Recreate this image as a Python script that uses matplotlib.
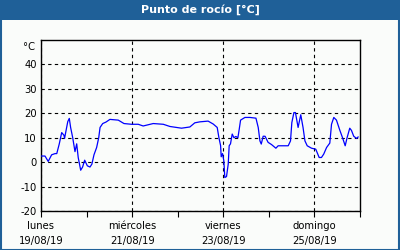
import matplotlib
matplotlib.use("Agg")
import matplotlib.pyplot as plt
from matplotlib.patches import Rectangle

# Data: hours since 19/08/19 00:00 and dew point values (°C)
hours = [0, 2.1, 3.8, 5.6, 7.4, 8.3, 9.6, 10.9, 12.1, 12.4, 14.1, 14.9, 15.6, 16.7,
         17.9, 18.8, 19.6, 20.9, 21.9, 23.0, 24.4, 25.8, 26.8, 27.9, 29.3, 30.4,
         31.1, 32.5, 34.2, 36.3, 40.7, 43.7, 47.7, 51.2, 53.8, 59.1, 64.4, 67.9,
         74.0, 78.4, 81.0, 83.7, 88.0, 90.7, 92.8, 93.7, 94.6, 94.9, 95.6, 96.3,
         96.8, 97.7, 98.6, 99.1, 99.8, 100.7, 101.6, 102.6, 103.7, 104.4, 105.1,
         107.4, 110.0, 113.2, 114.4, 115.3, 116.0, 117.0, 118.0, 119.6, 121.4,
         123.7, 124.9, 128.4, 130.2, 131.4, 132.1, 133.2, 134.0, 135.4, 136.8,
         138.0, 139.0, 140.2, 142.5, 144.7, 146.5, 147.7, 148.9, 150.4, 152.1,
         153.0, 154.2, 155.6, 157.4, 158.8, 160.2, 161.2, 162.6, 163.5, 164.7,
         166.2, 167.0]
dew = [2.5, 2.5, 0.3, 3.0, 3.5, 3.5, 7.4, 12.1, 11.0, 9.7, 16.6, 17.9, 14.2, 10.0,
       4.3, 7.5, 1.9, -3.3, -2.0, 0.8, -1.5, -2.0, -0.8, 3.0, 6.0, 10.0,
       14.2, 15.8, 16.4, 17.5, 17.2, 15.8, 15.5, 15.5, 14.8, 15.8, 15.5, 14.6,
       13.9, 14.4, 16.1, 16.5, 16.8, 15.6, 14.2, 10.0, 6.7, 2.2, 3.5, 0.5,
       -6.3, -5.9, -0.8, 6.7, 7.5, 11.5, 10.0, 10.5, 10.0, 13.5, 17.2,
       18.3, 18.3, 18.0, 14.2, 8.7, 7.4, 10.6, 10.6, 8.1, 7.2,
       5.7, 6.7, 6.7, 6.7, 8.7, 16.2, 20.3, 20.3, 14.2, 19.4,
       14.2, 8.7, 6.7, 5.7, 5.3, 1.9, 1.9, 3.3, 6.0, 7.8,
       15.5, 18.3, 17.2, 13.0, 10.0, 6.7, 10.0, 13.9, 13.0, 10.6,
       9.7, 10.3]

major_ticks = [0, 48, 96, 144]
major_labels = ["lunes\n19/08/19", "miércoles\n21/08/19", "viernes\n23/08/19", "domingo\n25/08/19"]
minor_ticks = [24, 72, 120, 168]
y_ticks = [-20, -10, 0, 10, 20, 30, 40]
title = "Punto de rocío [°C]"
unit = "°C"

W, H = 400, 250
fig = plt.figure(figsize=(W / 100, H / 100), dpi=100)
fig.patch.set_facecolor("#fafcfa")

blue = "#1f6098"
# title bar
fig.add_artist(Rectangle((0, 1 - 20 / H), 1, 20 / H, transform=fig.transFigure,
                         facecolor=blue, edgecolor="none", zorder=0))
# border
fig.add_artist(Rectangle((0.5 / W, 0.5 / H), 1 - 1.5 / W, 1 - 1.5 / H, transform=fig.transFigure,
                         facecolor="none", edgecolor=blue, linewidth=1.5, zorder=5))
fig.text(0.5, 1 - 10 / H, title, color="white", fontweight="bold", fontsize=8,
         ha="center", va="center")

ax = fig.add_axes([41 / W, (H - 211) / H, (360 - 41) / W, (211 - 40) / H])
ax.set_facecolor("#fafcfa")
ax.plot(hours, dew, color="#0000ff", linewidth=0.9, zorder=3)

ax.set_xlim(0, 168)
ax.set_ylim(-20, 50)
ax.set_xticks(major_ticks)
ax.set_xticklabels(major_labels, fontsize=7.2, linespacing=1.7)
ax.set_xticks(minor_ticks, minor=True)
ax.set_yticks(y_ticks)
ax.set_yticklabels([str(v) for v in y_ticks], fontsize=7.2)
ax.text(-0.02, 0.99, unit, transform=ax.transAxes, ha="right", va="top", fontsize=7.2)

ax.tick_params(axis="x", which="both", direction="out", length=4, width=0.8, pad=3)
ax.tick_params(axis="y", length=0, pad=3)
ax.grid(True, which="major", axis="both", color="black", linestyle=(0, (3, 3)), linewidth=0.8)
for s in ax.spines.values():
    s.set_linewidth(1.0)
    s.set_color("black")

fig.savefig("out.png", dpi=100, facecolor=fig.get_facecolor())
